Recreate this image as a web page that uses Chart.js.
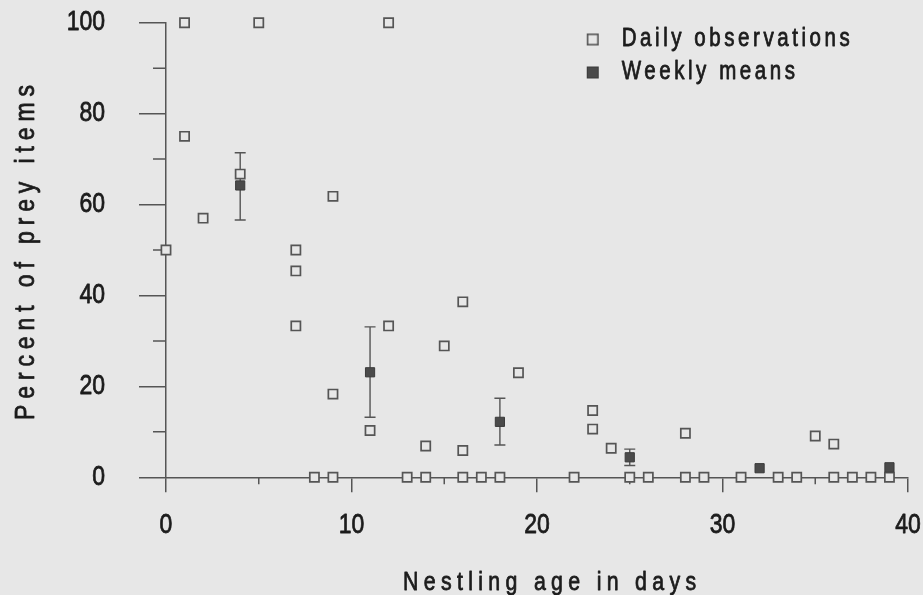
<!DOCTYPE html>
<html>
<head>
<meta charset="utf-8">
<script src="https://cdn.jsdelivr.net/npm/chart.js@4/dist/chart.umd.min.js"></script>
<style>
  html, body { margin: 0; padding: 0; background: #e7e7e7; }
  #wrap { width: 923px; height: 595px; }
</style>
</head>
<body>
<div id="wrap"><canvas id="c" width="923" height="595"></canvas></div>
<script>
// ---- data ----
const dailyAge = [0, 1, 1, 2, 4, 5, 7, 7, 7, 8, 9, 9, 9, 11, 12, 12, 13, 14, 14, 15, 16, 16, 16, 17, 18, 19, 22, 23, 23, 24, 25, 26, 28, 28, 29, 31, 33, 34, 35, 36, 36, 37, 38, 39];
const dailyPct = [50, 100, 75, 57, 66.7, 100, 50, 45.4, 33.3, 0, 61.8, 18.3, 0, 10.3, 100, 33.3, 0, 6.9, 0, 28.9, 38.6, 5.9, 0, 0, 0, 23, 0, 14.7, 10.6, 6.4, 0, 0, 9.7, 0, 0, 0, 0, 0, 9.1, 7.3, 0, 0, 0, 0];
const weeklyAge = [4, 11, 18, 25, 32, 39];
const weeklyMean = [64.2, 23.1, 12.2, 4.4, 2.0, 2.2];
const weeklyLow = [56.6, 13.2, 7.1, 2.6, 2.0, 2.2];
const weeklyHigh = [71.4, 33.1, 17.4, 6.2, 2.0, 2.2];
const xMajorTicks = [0, 10, 20, 30, 40];
const xMinorTicks = [5, 15, 25, 35];
const yMajorTicks = [0, 20, 40, 60, 80, 100];
const yMinorTicks = [10, 30, 50, 70, 90];
const seriesNames = ['Daily observations', 'Weekly means'];
const xTitle = 'Nestling age in days';
const yTitle = 'Percent of prey items';

// ---- styles ----
const BG = '#e7e7e7';
const INK = '#1c1c1c';
const LINE = '#555555';
const FAM = "'Liberation Sans', Arial, sans-serif";
const SX = 0.82; // horizontal condensation of all text (narrow typeface look)

const canvas = document.getElementById('c');
const ctx0 = canvas.getContext('2d');
const rawFill = ctx0.fillText;
const rawStroke = ctx0.strokeText;
ctx0.fillText = function (t, x, y, mw) {
  this.save();
  this.translate(x, y);
  this.scale(SX, 1);
  rawFill.call(this, t, 0, 0);
  this.strokeStyle = this.fillStyle;
  this.lineWidth = 0.8;
  this.lineJoin = 'round';
  rawStroke.call(this, t, 0, 0);
  this.restore();
};

function spacingFor(ctx, text, target) {
  ctx.save();
  ctx.letterSpacing = '0px';
  const w = ctx.measureText(text).width;
  ctx.restore();
  return Math.max(0, (target / SX - w) / (text.length - 1));
}

function squareIcon(fill, stroke, lw) {
  const c = document.createElement('canvas');
  c.width = 14; c.height = 14;
  const g = c.getContext('2d');
  g.fillStyle = fill;
  g.fillRect(1, 1, 12, 12);
  g.strokeStyle = stroke;
  g.lineWidth = lw;
  g.strokeRect(1 + lw / 2, 1 + lw / 2, 12 - lw, 12 - lw);
  return c;
}
const icons = [squareIcon(BG, '#555555', 1.6), squareIcon('#4a4a4a', '#3a3a3a', 1)];

function noOverhang(s) {
  s.paddingTop = 0; s.paddingBottom = 0; s.paddingLeft = 0; s.paddingRight = 0;
}

const decor = {
  id: 'decor',
  beforeDraw(chart) {
    const ctx = chart.ctx;
    ctx.save();
    ctx.fillStyle = BG;
    ctx.fillRect(0, 0, chart.width, chart.height);
    ctx.restore();
  },
  afterLayout(chart) {
    const lg = chart.legend;
    if (!lg) return;
    lg.left = 568.2; lg.right = 918;
    lg.top = 19; lg.bottom = 470;
    lg.width = lg.right - lg.left; lg.height = lg.bottom - lg.top;
    if (!lg._spaced) {
      const proto = Object.getPrototypeOf(lg);
      lg.draw = function () {
        const ctx = this.ctx;
        ctx.save();
        ctx.font = '25px ' + FAM;
        const s = spacingFor(ctx, seriesNames[0], 228);
        ctx.letterSpacing = s + 'px';
        proto.draw.call(this);
        ctx.restore();
      };
      lg._spaced = true;
    }
  },
  beforeDatasetsDraw(chart) {
    const ctx = chart.ctx;
    const xs = chart.scales.x, ys = chart.scales.y;
    const x0 = xs.getPixelForValue(0), y0 = ys.getPixelForValue(0);
    ctx.save();
    ctx.strokeStyle = LINE;
    ctx.lineWidth = 1.5;
    ctx.beginPath();
    xMinorTicks.forEach(v => {
      const px = xs.getPixelForValue(v);
      ctx.moveTo(px, y0); ctx.lineTo(px, y0 + 7);
    });
    yMinorTicks.forEach(v => {
      const py = ys.getPixelForValue(v);
      ctx.moveTo(x0 - 13, py); ctx.lineTo(x0, py);
    });
    ctx.stroke();
    // error bars of weekly means
    ctx.lineWidth = 1.4;
    ctx.beginPath();
    weeklyAge.forEach((a, i) => {
      if (weeklyHigh[i] <= weeklyLow[i]) return;
      const px = xs.getPixelForValue(a);
      const lo = ys.getPixelForValue(weeklyLow[i]);
      const hi = ys.getPixelForValue(weeklyHigh[i]);
      ctx.moveTo(px, hi); ctx.lineTo(px, lo);
      ctx.moveTo(px - 5.5, hi); ctx.lineTo(px + 5.5, hi);
      ctx.moveTo(px - 5.5, lo); ctx.lineTo(px + 5.5, lo);
    });
    ctx.stroke();
    ctx.restore();
  },
  afterDraw(chart) {
    const ctx = chart.ctx;
    ctx.save();
    ctx.fillStyle = INK;
    ctx.textAlign = 'left';
    ctx.textBaseline = 'alphabetic';
    // x-axis title
    ctx.font = '26px ' + FAM;
    let s = spacingFor(ctx, xTitle, 293);
    ctx.letterSpacing = s + 'px';
    ctx.fillText(xTitle, 549.6 - 293 / 2, 590);
    // y-axis title
    ctx.font = '28px ' + FAM;
    ctx.letterSpacing = '0px';
    s = spacingFor(ctx, yTitle, 335);
    ctx.letterSpacing = s + 'px';
    ctx.translate(34, 252.5);
    ctx.rotate(-Math.PI / 2);
    ctx.fillText(yTitle, -335 / 2, 0);
    ctx.restore();
  }
};

new Chart(canvas, {
  type: 'scatter',
  data: {
    datasets: [
      {
        label: seriesNames[0],
        data: dailyAge.map((x, i) => ({ x: x, y: dailyPct[i] })),
        pointStyle: 'rect',
        pointRadius: 6.5,
        borderWidth: 1.7,
        borderColor: '#555555',
        backgroundColor: BG,
        clip: false,
        order: 2
      },
      {
        label: seriesNames[1],
        data: weeklyAge.map((x, i) => ({ x: x, y: weeklyMean[i] })),
        pointStyle: 'rect',
        pointRadius: 6.5,
        borderWidth: 1,
        borderColor: '#3a3a3a',
        backgroundColor: '#4a4a4a',
        clip: false,
        order: 1
      }
    ]
  },
  options: {
    responsive: false,
    devicePixelRatio: 1,
    animation: false,
    events: [],
    layout: { padding: { top: 22.7, right: 15, bottom: 0, left: 0 }, autoPadding: false },
    scales: {
      x: {
        type: 'linear',
        min: 0, max: 40,
        afterBuildTicks: s => { s.ticks = xMajorTicks.map(v => ({ value: v })); },
        afterFit: s => { s.height = 117.7; noOverhang(s); },
        ticks: { font: { family: FAM, size: 28 }, color: INK, padding: 16, maxRotation: 0, autoSkip: false },
        grid: { drawOnChartArea: false, drawTicks: true, tickLength: 15, color: LINE, lineWidth: 1.5 },
        border: { display: true, color: LINE, width: 1.5 },
        title: { display: false }
      },
      y: {
        type: 'linear',
        min: 0, max: 100,
        afterBuildTicks: s => { s.ticks = yMajorTicks.map(v => ({ value: v })); },
        afterFit: s => { s.width = 166; noOverhang(s); },
        ticks: { font: { family: FAM, size: 28 }, color: INK, padding: 34 },
        grid: { drawOnChartArea: false, drawTicks: true, tickLength: 27, color: LINE, lineWidth: 1.5 },
        border: { display: true, color: LINE, width: 1.5 },
        title: { display: false }
      }
    },
    plugins: {
      tooltip: { enabled: false },
      title: { display: false },
      legend: {
        display: true,
        position: 'chartArea',
        align: 'start',
        labels: {
          font: { family: FAM, size: 25 },
          color: INK,
          usePointStyle: true,
          pointStyleWidth: 33,
          padding: 8,
          textAlign: 'left',
          sort: (a, b) => a.datasetIndex - b.datasetIndex,
          generateLabels(chart) {
            const items = Chart.defaults.plugins.legend.labels.generateLabels(chart);
            items.forEach(it => { it.pointStyle = icons[it.datasetIndex]; it.fontColor = INK; });
            return items;
          }
        }
      }
    }
  },
  plugins: [decor]
});
</script>
</body>
</html>
